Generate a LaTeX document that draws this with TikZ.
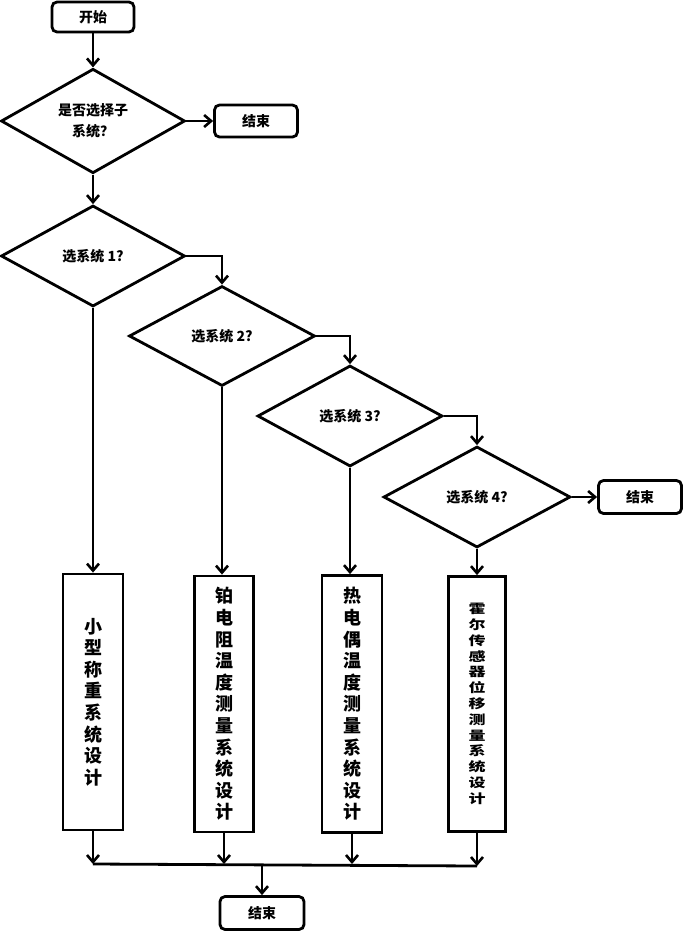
\documentclass[tikz,border=0pt]{standalone}
\usepackage{fontspec}
\usepackage{graphicx}
\newfontfamily\cjk{Noto Sans CJK SC}
\usetikzlibrary{shapes.geometric,arrows.meta,shadows}
\newcommand{\sqz}[1]{\scalebox{1}[0.74]{#1}}
\tikzset{
  base/.style={line width=2.8pt, draw=black, fill=white},
  term/.style={base, rounded corners=5pt, inner sep=0pt,
    drop shadow={shadow xshift=1pt, shadow yshift=-1pt, fill=black!20},
    font=\cjk\bfseries\fontsize{14}{16}\selectfont},
  decide/.style={base, diamond, inner sep=0pt, align=center,
    font=\cjk\bfseries\fontsize{14}{21}\selectfont},
  vbox/.style={base, rectangle, inner sep=0pt, align=center,
    font=\cjk\bfseries\fontsize{18}{21.6}\selectfont},
  conn/.style={line width=2.8pt, -{Straight Barb[length=7pt,width=12pt,line width=2.6pt]}},
  plain/.style={line width=2.8pt}
}
\begin{document}
\begin{tikzpicture}[x=1pt,y=-1pt]
\useasboundingbox (0,0) rectangle (686,932);
\node[term, minimum width=82pt, minimum height=30pt] (start) at (93,17) {开始};
\node[decide, minimum width=184pt, minimum height=102pt] (d0) at (93,121) {是否选择子\\系统？};
\node[term, minimum width=83pt, minimum height=32pt] (e1) at (256,121) {结束};
\node[decide, minimum width=184pt, minimum height=101pt] (d1) at (93,256) {选系统 1?};
\node[decide, minimum width=186pt, minimum height=100pt] (d2) at (222,336) {选系统 2?};
\node[decide, minimum width=185pt, minimum height=101pt] (d3) at (350,416) {选系统 3?};
\node[decide, minimum width=187pt, minimum height=101pt] (d4) at (477,497) {选系统 4?};
\node[term, minimum width=83pt, minimum height=33pt] (e2) at (640,497) {结束};
\node[vbox, minimum width=60pt, minimum height=256pt] (b1) at (93,702)
  {小\\型\\称\\重\\系\\统\\设\\计};
\node[vbox, minimum width=59pt, minimum height=256pt] (b2) at (224,704)
  {铂\\电\\阻\\温\\度\\测\\量\\系\\统\\设\\计};
\node[vbox, minimum width=60pt, minimum height=257pt] (b3) at (352,704)
  {热\\电\\偶\\温\\度\\测\\量\\系\\统\\设\\计};
\node[vbox, minimum width=57pt, minimum height=255pt, font=\cjk\bfseries\fontsize{17}{15.8}\selectfont] (b4) at (477,704)
  {\sqz{霍}\\\sqz{尔}\\\sqz{传}\\\sqz{感}\\\sqz{器}\\\sqz{位}\\\sqz{移}\\\sqz{测}\\\sqz{量}\\\sqz{系}\\\sqz{统}\\\sqz{设}\\\sqz{计}};
\node[term, minimum width=84pt, minimum height=33pt] (e3) at (262,913) {结束};
\coordinate (jl) at (93,864);
\coordinate (jr) at (477,866);
\draw[conn] (start) -- (d0);
\draw[conn] (d0.east) -- (e1.west);
\draw[conn] (d0) -- (d1);
\draw[conn] (d1.east) -| (d2.north);
\draw[conn] (d2.east) -| (d3.north);
\draw[conn] (d3.east) -| (d4.north);
\draw[conn] (d4.east) -- (e2.west);
\draw[conn] (d1.south) -- (b1.north);
\draw[conn] (d2.south) -- (d2.south |- b2.north);
\draw[conn] (d3.south) -- (d3.south |- b3.north);
\draw[conn] (d4.south) -- (b4.north);
\draw[plain] (jl) -- (jr);
\draw[conn] (b1.south) -- (jl);
\draw[conn] (b2.south) -- (b2.south |- jl);
\draw[conn] (b3.south) -- (b3.south |- jl);
\draw[conn] (b4.south) -- (jr);
\draw[conn] (e3.north |- jl) -- (e3.north);
\end{tikzpicture}
\end{document}
